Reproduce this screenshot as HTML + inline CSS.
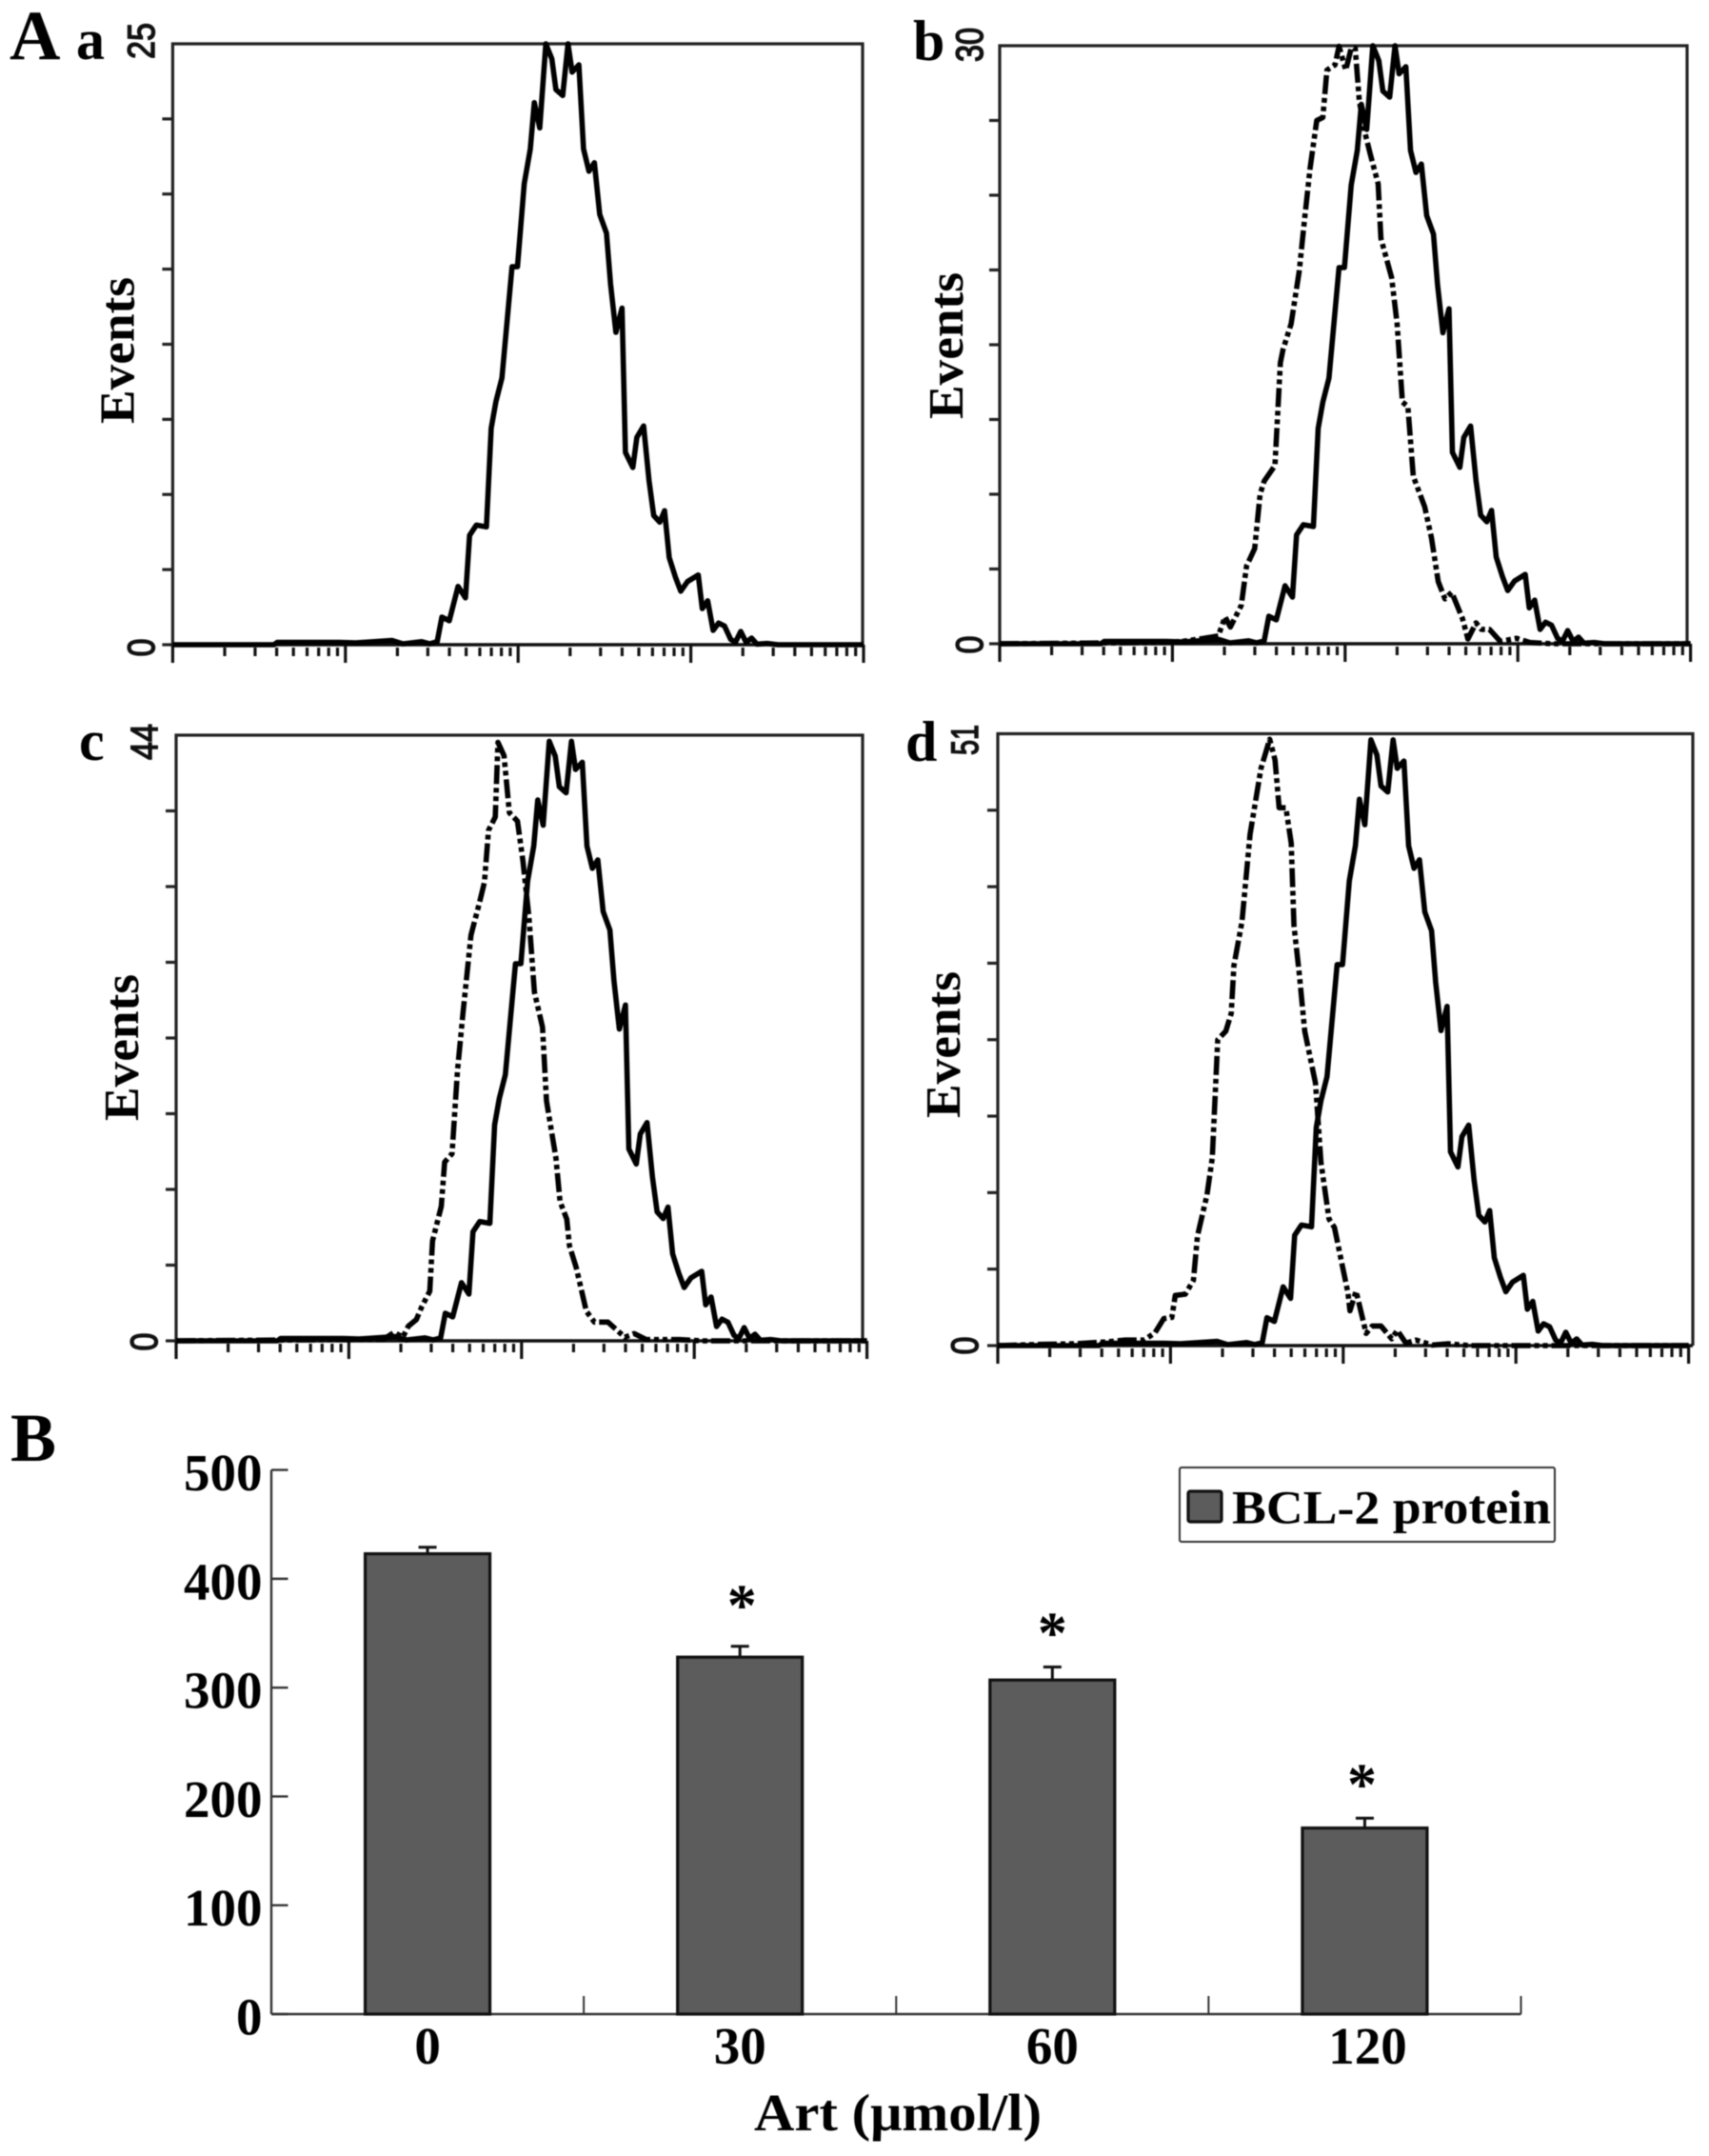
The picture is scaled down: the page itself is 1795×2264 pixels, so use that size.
<!DOCTYPE html>
<html lang="en">
<head>
<meta charset="utf-8">
<title>BCL-2 flow cytometry histograms and bar chart</title>
<style>
html,body{margin:0;padding:0;background:#fff;}
svg{display:block;font-family:"Liberation Serif",serif;filter:blur(0.4px);}
</style>
</head>
<body>
<svg id="figure" xmlns="http://www.w3.org/2000/svg" width="1795" height="2264" viewBox="0 0 1795 2264">
<rect x="0" y="0" width="1795" height="2264" fill="#fff"/>
<text x="10" y="62" font-size="74" font-weight="700" fill="#000">A</text>
<text x="11" y="1534" font-size="72" font-weight="700" fill="#000">B</text>
</svg>
<script>
// Flow cytometry data: channel (256 per decade) and percent of axis maximum.
const solidChannels = [0,150,155,223,247,271,325,341,369,381,392,399,410,423,434,440,450,465,472,479,488,503,511,521,530,536,544,553,562,568,578,586,592,602,609,617,625,633,643,649,657,666,671,682,688,698,706,713,722,729,736,745,753,763,779,785,793,801,809,818,827,834,842,850,858,866,881,897,1024];
const solidPercent = [0,0,0.4,0.4,0.4,0.3,0.7,0.15,0.5,0.15,0.5,4.6,4,9.7,7.8,18.2,19.9,19.6,36,40.4,44.4,62.9,62.9,76.7,82.5,90.2,86,100,97.5,92.4,91.4,100,95.3,96.5,82.5,78.8,80.2,71.6,68.5,60,52,56,32,29.5,34.5,36.4,27.3,21.5,20.4,22.3,14.5,11.3,8.9,10.5,11.6,6,7.3,2.4,3.6,3.1,0.9,0.4,2.2,0.4,1.1,0.1,0.2,0,0];

const dashBChannels = [0,239,271,303,324,334,342,358,366,378,386,392,408,416,420,432,444,452,460,470,479,485,497,503,513,521,527,533,541,549,561,565,581,589,597,605,613,630,640,650,660,670,686,694,706,714,726,742,766,786,819,1024];
const dashBPercent = [0,0.2,0.4,0.9,1.3,4.5,2.8,6.4,13,15.9,25,27.2,29.8,47,49.2,53.5,62.3,71.1,79.5,87.5,88,95.9,96.8,99.9,95.9,99.6,99.6,90.8,85.7,82,76.9,67.8,61.2,53.5,40.4,39.7,28,22.9,17.7,10.4,7.5,8.6,4.2,0.8,3.5,2.4,2.4,0.4,0.9,0.2,0,0];

const dashCChannels = [0,242,307,323,336,344,356,364,376,380,393,398,409,417,425,437,449,457,463,473,477,486,494,506,514,523,531,543,549,563,569,579,583,593,608,620,640,665,679,697,746,779,1024];
const dashCPercent = [0,0.2,0.2,1.4,0.6,2.4,3.5,5.6,8.2,16.5,22.2,29.5,30.9,44.6,54,67,72.1,75.7,84.3,86.5,98.8,96.6,87.2,85.8,79.3,69.9,57.6,51.8,39.6,30.2,23,20.1,15.7,12.1,4.9,3.1,3.1,0.6,1.2,0.2,0.2,0,0];

const dashDChannels = [0,64,113,161,189,217,233,246,258,263,278,290,296,310,318,326,338,346,350,362,374,390,403,411,417,427,435,439,447,455,471,479,491,499,519,522,531,546,555,568,584,592,605,620,644,668,700,1024];
const dashDPercent = [0,0.2,0.3,0.6,0.9,0.9,2.1,4.4,4.6,8.2,8.4,10.7,17.9,24.6,30.7,50,51.4,54.3,62.1,69.3,83.6,94.3,99.1,95.7,87.9,87.9,82.1,68.6,60.7,51.4,42.9,30,20.7,19.3,8.6,5.7,8.9,2,3.2,3.2,1.1,2.5,0.4,0.9,0.1,0.3,0,0];

const panelIds = ['a','b','c','d'];
const panelYMax = ['25','30','44','51'];
const panelSolidPeak = [1,1,0.99,0.99];
const panelDashChannels = [null,dashBChannels,dashCChannels,dashDChannels];
const panelDashPercent = [null,dashBPercent,dashCPercent,dashDPercent];
const yDivisions = [1,2,3,4,5,6,7];
const xDecades = [0,1,2,3];
const xMinors = [2,3,4,5,6,7,8,9];

// Bar chart data
const barCategories = ['0','30','60','120'];
const barValues = [423,328,307,171];
const barErrorTops = [429,338,319,180];
const barSignificant = [false,true,true,true];
const barTicks = ['0','100','200','300','400','500'];
const legendLabel = 'BCL-2 protein';
const xAxisTitle = 'Art (\u03BCmol/l)';

const NS = 'http://www.w3.org/2000/svg';
const svg = document.getElementById('figure');
function add(parent, tag, attrs, txt) {
  const el = document.createElementNS(NS, tag);
  for (const k in attrs) el.setAttribute(k, attrs[k]);
  if (txt !== undefined) el.textContent = txt;
  parent.appendChild(el);
  return el;
}
function mark(el, name) {
  
  
  return el;
}

const layouts = [
 {left:181.4,right:906,top:46,bottom:677,letterX:80,letterY:62,maxX:162,maxY:43,maxLen:38,zeroX:162,zeroY:680,evX:140.5,evY:368},
 {left:1050,right:1772,top:48,bottom:676,letterX:959,letterY:63,maxX:1032,maxY:47,maxLen:36,zeroX:1032,zeroY:677,evX:1011,evY:363},
 {left:185,right:906,top:772,bottom:1408,letterX:83,letterY:798,maxX:165,maxY:779,maxLen:38,zeroX:165,zeroY:1409,evX:145,evY:1100},
 {left:1048,right:1778,top:770.5,bottom:1413,letterX:951,letterY:799,maxX:1027,maxY:777,maxLen:32,zeroX:1027,zeroY:1413,evX:1008,evY:1097}
];
const pxPerDecade = 181.4;

panelIds.forEach(function (id, p) {
  const L = layouts[p];
  const g = mark(add(svg, 'g', {}), 'histogram-panel-' + id);
  const xScale = function (ch) { return L.left + ch / 256 * pxPerDecade; };
  const yScale = function (pct) { return L.bottom - pct / 100 * (L.bottom - L.top); };

  const letter = add(g, 'text', {x:L.letterX, y:L.letterY, 'font-size':60, 'font-weight':700, fill:'#000'}, id);
  mark(letter, 'panel-letter-' + id);

  const frame = add(g, 'path', {d:'M' + L.left + ' ' + L.bottom + 'V' + L.top + 'H' + L.right + 'V' + L.bottom, fill:'none', stroke:'#222', 'stroke-width':3.2});
  mark(frame, 'plot-frame-' + id);
  const baseline = add(g, 'line', {x1:L.left, x2:L.right, y1:L.bottom, y2:L.bottom, stroke:'#111', 'stroke-width':3.6});
  mark(baseline, 'x-axis-baseline-' + id);

  yDivisions.forEach(function (d) {
    const yy = L.bottom - d / 8 * (L.bottom - L.top);
    const t = add(g, 'line', {x1:L.left - 11, x2:L.left, y1:yy, y2:yy, stroke:'#222', 'stroke-width':3.2});
    mark(t, 'y-tick');
  });
  const t0 = add(g, 'line', {x1:L.left - 11, x2:L.left, y1:L.bottom, y2:L.bottom, stroke:'#222', 'stroke-width':3.2});
  mark(t0, 'y-tick');

  xDecades.forEach(function (dec) {
    const maj = add(g, 'line', {x1:xScale(dec * 256), x2:xScale(dec * 256), y1:L.bottom, y2:L.bottom + 19, stroke:'#111', 'stroke-width':3.2});
    mark(maj, 'x-major-tick');
    xMinors.forEach(function (m) {
      const xx = xScale((dec + Math.log10(m)) * 256);
      const mi = add(g, 'line', {x1:xx, x2:xx, y1:L.bottom + 3, y2:L.bottom + 12, stroke:'#111', 'stroke-width':3.2});
      mark(mi, 'x-minor-tick');
    });
  });
  const endTick = add(g, 'line', {x1:xScale(1024), x2:xScale(1024), y1:L.bottom, y2:L.bottom + 19, stroke:'#111', 'stroke-width':3.2});
  mark(endTick, 'x-major-tick');

  const maxLabel = add(g, 'text', {x:L.maxX, y:L.maxY, transform:'rotate(-90 ' + L.maxX + ' ' + L.maxY + ')', 'text-anchor':'middle', 'font-family':'"Liberation Sans",sans-serif', 'font-size':40, fill:'#111', stroke:'#111', 'stroke-width':1.5, textLength:L.maxLen, lengthAdjust:'spacingAndGlyphs'}, panelYMax[p]);
  mark(maxLabel, 'y-max-label-' + id);
  const zeroLabel = add(g, 'text', {x:L.zeroX, y:L.zeroY, transform:'rotate(-90 ' + L.zeroX + ' ' + L.zeroY + ')', 'text-anchor':'middle', 'font-family':'"Liberation Sans",sans-serif', 'font-size':40, fill:'#111', stroke:'#111', 'stroke-width':1.5, textLength:19, lengthAdjust:'spacingAndGlyphs'}, '0');
  mark(zeroLabel, 'y-zero-label-' + id);
  const events = add(g, 'text', {x:L.evX, y:L.evY, transform:'rotate(-90 ' + L.evX + ' ' + L.evY + ')', 'text-anchor':'middle', 'font-size':52, 'font-weight':700, fill:'#000', textLength:154, lengthAdjust:'spacingAndGlyphs'}, 'Events');
  mark(events, 'y-axis-title-' + id);

  if (panelDashChannels[p]) {
    const dashPts = panelDashChannels[p].map(function (c, i) { return xScale(c).toFixed(1) + ',' + yScale(panelDashPercent[p][i]).toFixed(1); }).join(' ');
    const dash = add(g, 'polyline', {points:dashPts, fill:'none', stroke:'#000', 'stroke-width':5.6, 'stroke-linejoin':'round', 'stroke-dasharray':'20 4 5 4 5 4'});
    mark(dash, 'treated-histogram-' + id);
  }
  const solidPts = solidChannels.map(function (c, i) { return xScale(c).toFixed(1) + ',' + yScale(solidPercent[i] * panelSolidPeak[p]).toFixed(1); }).join(' ');
  const solid = add(g, 'polyline', {points:solidPts, fill:'none', stroke:'#000', 'stroke-width':5.6, 'stroke-linejoin':'round'});
  mark(solid, 'control-histogram-' + id);
});

// Bar chart
const barG = mark(add(svg, 'g', {}), 'bar-chart');
const axisLeft = 285, axisRight = 1597.5, axisBase = 2115, axisTop = 1543.6;
function yB(v) { return axisBase - v / 500 * (axisBase - axisTop); }
function xB(i) { return axisLeft + (i + 0.5) * (axisRight - axisLeft) / barCategories.length; }
const barWidth = 131;
const starGap = [0, 22, 15, 15];
const starShift = [0, 2, 0, -3];

const yAxisLine = add(barG, 'line', {x1:axisLeft, x2:axisLeft, y1:axisTop, y2:axisBase, stroke:'#333', 'stroke-width':2.4});
mark(yAxisLine, 'y-axis-line');
const xAxisLine = add(barG, 'line', {x1:axisLeft, x2:axisRight, y1:axisBase, y2:axisBase, stroke:'#333', 'stroke-width':2.4});
mark(xAxisLine, 'x-axis-line');

barTicks.forEach(function (label) {
  const v = Number(label);
  const tick = add(barG, 'line', {x1:axisLeft, x2:302.5, y1:yB(v), y2:yB(v), stroke:'#333', 'stroke-width':2.4});
  mark(tick, 'y-tick-' + label);
  const tl = add(barG, 'text', {x:275.5, y:yB(v) + 21.5, 'text-anchor':'end', 'font-size':55, 'font-weight':700, fill:'#000'}, label);
  mark(tl, 'y-tick-label-' + label);
});

barCategories.forEach(function (cat, i) {
  const cx = xB(i);
  const sep = add(barG, 'line', {x1:cx + (axisRight - axisLeft) / 8, x2:cx + (axisRight - axisLeft) / 8, y1:axisBase - 19, y2:axisBase, stroke:'#333', 'stroke-width':2});
  mark(sep, 'x-tick-' + cat);

  const stem = add(barG, 'line', {x1:cx, x2:cx, y1:yB(barErrorTops[i]), y2:yB(barValues[i]), stroke:'#111', 'stroke-width':3});
  mark(stem, 'error-bar-' + cat);
  const cap = add(barG, 'line', {x1:cx - 9.5, x2:cx + 9.5, y1:yB(barErrorTops[i]), y2:yB(barErrorTops[i]), stroke:'#111', 'stroke-width':3});
  mark(cap, 'error-cap-' + cat);

  const bar = add(barG, 'rect', {x:cx - barWidth / 2, y:yB(barValues[i]), width:barWidth, height:axisBase - yB(barValues[i]), fill:'#5c5c5c', stroke:'#111', 'stroke-width':3.2});
  mark(bar, 'bar-' + cat);

  const catLabel = add(barG, 'text', {x:cx + (i === 3 ? 3 : 0), y:2167, 'text-anchor':'middle', 'font-size':55, 'font-weight':700, fill:'#000'}, cat);
  mark(catLabel, 'x-tick-label-' + cat);

  if (barSignificant[i]) {
    const star = add(barG, 'text', {x:cx + starShift[i], y:yB(barErrorTops[i]) - starGap[i], 'text-anchor':'middle', 'font-size':62, 'font-weight':700, fill:'#000'}, '*');
    mark(star, 'significance-star-' + cat);
  }
});

const xTitle = add(barG, 'text', {x:792, y:2237, 'font-size':55, 'font-weight':700, fill:'#000', textLength:302, lengthAdjust:'spacingAndGlyphs'}, xAxisTitle);
mark(xTitle, 'x-axis-title');

const legendBox = add(barG, 'rect', {x:1239, y:1541, width:394, height:78, rx:2, fill:'#fff', stroke:'#333', 'stroke-width':2});
mark(legendBox, 'legend-box');
const legendSwatch = add(barG, 'rect', {x:1248, y:1566, width:35, height:32, rx:2, fill:'#5c5c5c', stroke:'#111', 'stroke-width':3.2});
mark(legendSwatch, 'legend-swatch');
const legendText = add(barG, 'text', {x:1294, y:1599.5, 'font-size':50, 'font-weight':700, fill:'#000', textLength:335, lengthAdjust:'spacingAndGlyphs'}, legendLabel);
mark(legendText, 'legend-label');
</script>
</body>
</html>
